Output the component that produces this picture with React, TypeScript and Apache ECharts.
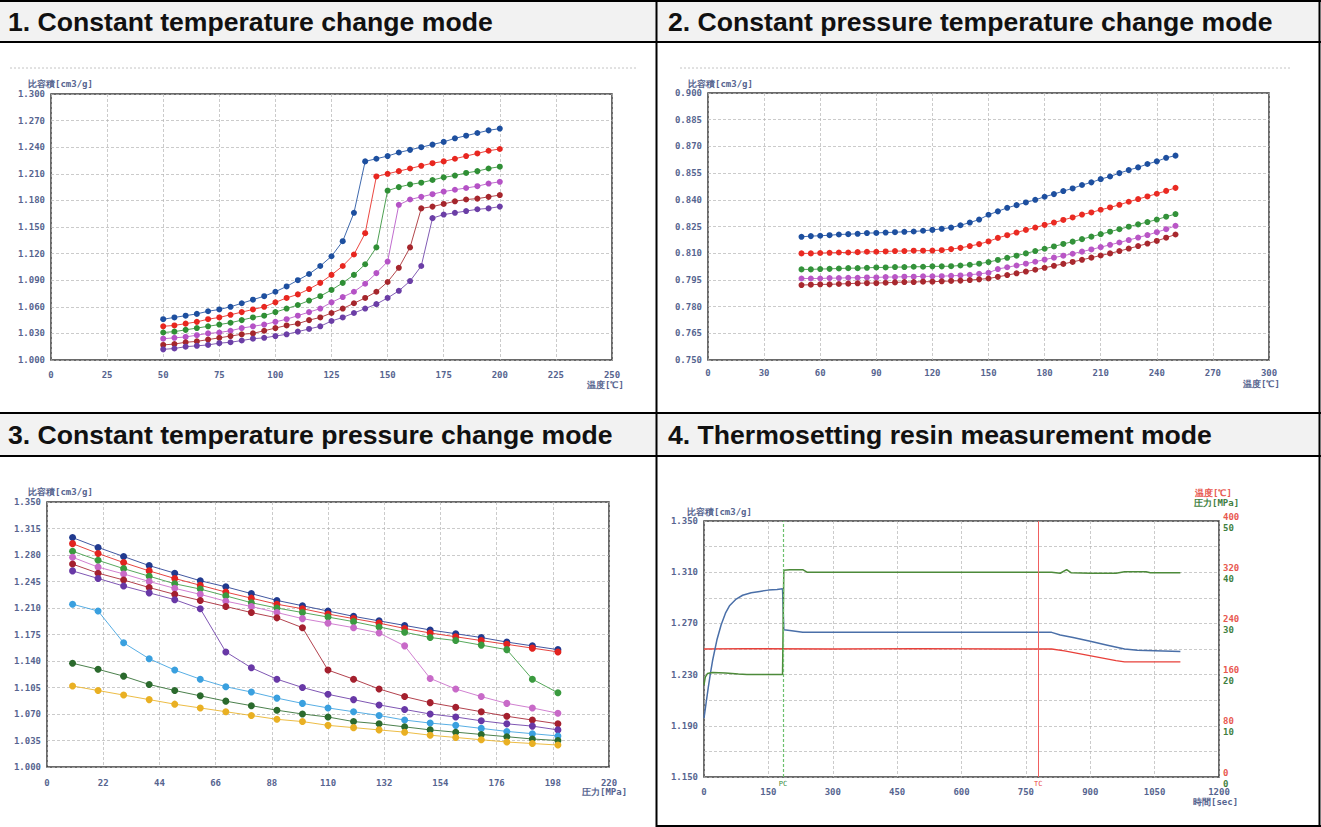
import React, { useEffect, useRef } from 'react';
import * as echarts from 'echarts';

// ---------- Table headers ----------
const headers = [
  '1. Constant temperature change mode',
  '2. Constant pressure temperature change mode',
  '3. Constant temperature pressure change mode',
  '4. Thermosetting resin measurement mode',
];

// ---------- Chart 1: constant temperature change (x: 温度 ℃) ----------
const c1Temp = [50, 55, 60, 65, 70, 75, 80, 85, 90, 95, 100, 105, 110, 115, 120, 125, 130, 135, 140, 145, 150, 155, 160, 165, 170, 175, 180, 185, 190, 195, 200];
const c1Blue = [1.046, 1.048, 1.050, 1.052, 1.055, 1.057, 1.060, 1.064, 1.068, 1.072, 1.077, 1.083, 1.090, 1.097, 1.106, 1.117, 1.134, 1.166, 1.224, 1.227, 1.230, 1.234, 1.237, 1.240, 1.243, 1.246, 1.250, 1.253, 1.256, 1.259, 1.261];
const c1Red = [1.038, 1.039, 1.041, 1.043, 1.046, 1.048, 1.051, 1.054, 1.057, 1.060, 1.065, 1.070, 1.074, 1.080, 1.087, 1.096, 1.106, 1.119, 1.143, 1.207, 1.210, 1.213, 1.216, 1.219, 1.222, 1.224, 1.227, 1.230, 1.233, 1.236, 1.238];
const c1Green = [1.031, 1.032, 1.034, 1.036, 1.038, 1.040, 1.042, 1.045, 1.048, 1.050, 1.054, 1.058, 1.062, 1.067, 1.072, 1.079, 1.087, 1.096, 1.108, 1.127, 1.191, 1.195, 1.198, 1.200, 1.203, 1.206, 1.208, 1.211, 1.213, 1.216, 1.218];
const c1Magenta = [1.024, 1.025, 1.026, 1.028, 1.030, 1.031, 1.033, 1.036, 1.038, 1.040, 1.043, 1.046, 1.050, 1.054, 1.058, 1.065, 1.071, 1.077, 1.086, 1.098, 1.111, 1.175, 1.181, 1.184, 1.187, 1.190, 1.192, 1.194, 1.196, 1.199, 1.201];
const c1DarkRed = [1.017, 1.018, 1.020, 1.021, 1.023, 1.025, 1.027, 1.029, 1.030, 1.033, 1.036, 1.039, 1.041, 1.045, 1.048, 1.053, 1.058, 1.064, 1.070, 1.077, 1.088, 1.104, 1.127, 1.171, 1.173, 1.176, 1.179, 1.181, 1.182, 1.184, 1.186];
const c1Purple = [1.012, 1.013, 1.015, 1.016, 1.017, 1.019, 1.020, 1.022, 1.024, 1.025, 1.027, 1.029, 1.032, 1.035, 1.038, 1.044, 1.048, 1.053, 1.058, 1.063, 1.070, 1.078, 1.089, 1.106, 1.160, 1.164, 1.166, 1.168, 1.170, 1.171, 1.173];

// ---------- Chart 2: constant pressure temperature change ----------
const c2Temp = [50, 55, 60, 65, 70, 75, 80, 85, 90, 95, 100, 105, 110, 115, 120, 125, 130, 135, 140, 145, 150, 155, 160, 165, 170, 175, 180, 185, 190, 195, 200, 205, 210, 215, 220, 225, 230, 235, 240, 245, 250];
const c2Blue = [0.8192, 0.8196, 0.8198, 0.8201, 0.8205, 0.8207, 0.8209, 0.8213, 0.8214, 0.8216, 0.8218, 0.8220, 0.8222, 0.8226, 0.8231, 0.8237, 0.8244, 0.8257, 0.8272, 0.8289, 0.8316, 0.8335, 0.8355, 0.8370, 0.8385, 0.8400, 0.8417, 0.8432, 0.8449, 0.8464, 0.8483, 0.8498, 0.8516, 0.8531, 0.8550, 0.8567, 0.8582, 0.8601, 0.8616, 0.8636, 0.8648];
const c2Red = [0.8099, 0.8099, 0.8101, 0.8102, 0.8104, 0.8104, 0.8106, 0.8108, 0.8108, 0.8110, 0.8112, 0.8112, 0.8114, 0.8114, 0.8115, 0.8117, 0.8123, 0.8130, 0.8140, 0.8151, 0.8166, 0.8186, 0.8201, 0.8216, 0.8231, 0.8244, 0.8259, 0.8272, 0.8287, 0.8301, 0.8317, 0.8329, 0.8344, 0.8357, 0.8372, 0.8389, 0.8404, 0.8419, 0.8434, 0.8450, 0.8467];
const c2Green = [0.8009, 0.8009, 0.8011, 0.8012, 0.8014, 0.8016, 0.8016, 0.8018, 0.8020, 0.8020, 0.8022, 0.8022, 0.8024, 0.8024, 0.8026, 0.8026, 0.8027, 0.8031, 0.8035, 0.8041, 0.8050, 0.8062, 0.8074, 0.8086, 0.8099, 0.8112, 0.8125, 0.8138, 0.8152, 0.8165, 0.8179, 0.8193, 0.8207, 0.8221, 0.8235, 0.8249, 0.8262, 0.8275, 0.8289, 0.8305, 0.8320];
const c2Magenta = [0.7958, 0.7958, 0.7958, 0.7960, 0.7960, 0.7962, 0.7962, 0.7964, 0.7964, 0.7966, 0.7966, 0.7968, 0.7968, 0.7970, 0.7970, 0.7971, 0.7973, 0.7975, 0.7979, 0.7984, 0.7990, 0.8011, 0.8021, 0.8031, 0.8041, 0.8052, 0.8064, 0.8075, 0.8086, 0.8097, 0.8109, 0.8121, 0.8134, 0.8147, 0.8160, 0.8174, 0.8188, 0.8202, 0.8218, 0.8235, 0.8254];
const c2DarkRed = [0.7921, 0.7923, 0.7925, 0.7925, 0.7927, 0.7929, 0.7931, 0.7932, 0.7932, 0.7934, 0.7936, 0.7938, 0.7938, 0.7940, 0.7940, 0.7942, 0.7944, 0.7946, 0.7949, 0.7953, 0.7958, 0.7967, 0.7977, 0.7987, 0.7997, 0.8007, 0.8018, 0.8029, 0.8040, 0.8051, 0.8063, 0.8075, 0.8087, 0.8099, 0.8112, 0.8126, 0.8140, 0.8154, 0.8169, 0.8187, 0.8205];

// ---------- Chart 3: constant temperature pressure change (x: 圧力 MPa) ----------
const c3Pressure = [10, 20, 30, 40, 50, 60, 70, 80, 90, 100, 110, 120, 130, 140, 150, 160, 170, 180, 190, 200];
const c3Navy = [1.303, 1.290, 1.278, 1.266, 1.256, 1.246, 1.238, 1.229, 1.220, 1.213, 1.206, 1.199, 1.193, 1.187, 1.181, 1.176, 1.171, 1.165, 1.160, 1.155];
const c3Red = [1.295, 1.282, 1.270, 1.259, 1.249, 1.240, 1.231, 1.223, 1.215, 1.209, 1.202, 1.196, 1.190, 1.183, 1.177, 1.172, 1.167, 1.162, 1.157, 1.152];
const c3Green = [1.285, 1.273, 1.262, 1.252, 1.242, 1.235, 1.226, 1.217, 1.210, 1.204, 1.198, 1.192, 1.185, 1.178, 1.171, 1.167, 1.161, 1.155, 1.116, 1.098];
const c3Pink = [1.277, 1.264, 1.255, 1.245, 1.236, 1.228, 1.219, 1.212, 1.204, 1.196, 1.190, 1.184, 1.177, 1.160, 1.117, 1.103, 1.093, 1.084, 1.078, 1.071];
const c3DarkRed = [1.268, 1.256, 1.247, 1.237, 1.228, 1.220, 1.212, 1.204, 1.197, 1.184, 1.128, 1.116, 1.103, 1.093, 1.085, 1.079, 1.073, 1.067, 1.062, 1.057];
const c3Purple = [1.259, 1.249, 1.239, 1.230, 1.221, 1.209, 1.152, 1.131, 1.116, 1.105, 1.096, 1.089, 1.082, 1.076, 1.070, 1.066, 1.061, 1.057, 1.054, 1.049];
const c3LightBlue = [1.215, 1.206, 1.164, 1.143, 1.128, 1.116, 1.106, 1.099, 1.091, 1.084, 1.078, 1.073, 1.068, 1.062, 1.058, 1.055, 1.051, 1.047, 1.044, 1.041];
const c3DarkGreen = [1.137, 1.129, 1.120, 1.109, 1.101, 1.094, 1.087, 1.081, 1.075, 1.070, 1.066, 1.060, 1.057, 1.053, 1.049, 1.046, 1.043, 1.040, 1.037, 1.035];
const c3Yellow = [1.107, 1.101, 1.095, 1.089, 1.083, 1.078, 1.073, 1.068, 1.063, 1.060, 1.055, 1.052, 1.049, 1.046, 1.042, 1.039, 1.036, 1.033, 1.031, 1.029];

// ---------- Chart 4: thermosetting resin (x: 時間 sec) ----------
const c4VolTime = [0, 5, 10, 15, 20, 30, 40, 50, 60, 75, 90, 110, 130, 150, 170, 183, 186, 200, 230, 400, 600, 810, 830, 860, 900, 940, 980, 1010, 1110];
const c4Volume = [1.196, 1.208, 1.220, 1.231, 1.241, 1.257, 1.269, 1.278, 1.284, 1.289, 1.292, 1.294, 1.295, 1.296, 1.2965, 1.297, 1.265, 1.2645, 1.263, 1.263, 1.263, 1.263, 1.261, 1.259, 1.256, 1.253, 1.250, 1.249, 1.248];
const c4TempTime = [0, 100, 300, 500, 700, 810, 840, 880, 920, 960, 980, 1110];
const c4TempVal = [200, 200.5, 200, 200.5, 200, 200, 197, 192, 187, 182, 180, 180];
const c4PresTime = [0, 3, 8, 20, 50, 80, 100, 183, 186, 200, 230, 240, 500, 810, 830, 845, 855, 900, 960, 980, 1030, 1040, 1110];
const c4PresVal = [18, 19.5, 20.2, 20.4, 20.3, 20.1, 20.0, 20.0, 40.4, 40.5, 40.5, 40.0, 40.0, 40.0, 39.8, 40.5, 39.9, 39.8, 39.8, 40.1, 40.1, 39.9, 39.9];
const c4PcTime = 184;
const c4TcTime = 779;

const LABEL = { fontFamily: 'DejaVu Sans Mono', fontSize: 9, fontWeight: 'bold', color: '#56648f' };
const SPLIT = { show: true, lineStyle: { color: '#b4b4b4', width: 0.7, type: [3, 2] } };

function xAxisDef(gridIndex: number, max: number, interval: number, margin: number) {
  return {
    type: 'value', gridIndex, min: 0, max, interval,
    axisLine: { show: false }, axisTick: { show: false },
    splitLine: SPLIT,
    axisLabel: { ...LABEL, margin, formatter: (v: number) => String(v) },
  };
}

function yAxisDef(gridIndex: number, min: number, max: number, interval: number, formatter?: any) {
  return {
    type: 'value', gridIndex, min, max, interval,
    axisLine: { show: false }, axisTick: { show: false },
    splitLine: SPLIT,
    axisLabel: { ...LABEL, margin: 6, formatter: formatter || ((v: number) => v.toFixed(3)) },
  };
}

function dots(xs: number[], ys: number[], color: string, xi: number, yi: number, size: number) {
  return {
    type: 'line', xAxisIndex: xi, yAxisIndex: yi,
    data: xs.map((x, i) => [x, ys[i]]),
    symbol: 'circle', symbolSize: size, showSymbol: true,
    itemStyle: { color },
    lineStyle: { color, width: 1, opacity: 0.85 },
    emphasis: { disabled: true },
    z: 3,
  };
}

function txt(x: number, y: number, text: string, fill: string, extra: any = {}) {
  return {
    type: 'text', x, y, silent: true,
    style: { text, fill, fontFamily: 'DejaVu Sans Mono', fontSize: 9, fontWeight: 'bold', align: 'left', verticalAlign: 'middle', ...extra },
  };
}

function hline(x1: number, x2: number, y: number, w: number, stroke = '#000', dash?: number[]) {
  return { type: 'line', silent: true, shape: { x1, y1: y, x2, y2: y }, style: { stroke, lineWidth: w, lineDash: dash } };
}
function vline(x: number, y1: number, y2: number, w: number, stroke = '#000') {
  return { type: 'line', silent: true, shape: { x1: x, y1, x2: x, y2 }, style: { stroke, lineWidth: w } };
}

export default function App() {
  const ref = useRef<HTMLDivElement>(null);
  useEffect(() => {
    document.body.style.margin = '0';
    const chart = echarts.init(ref.current!, null, { renderer: 'svg' });
    const c1Colors = ['#1d4f9f', '#e8261f', '#2f8f35', '#b552c6', '#a5262c', '#6b3ea6'];
    const c2Colors = ['#1d4f9f', '#ea2a22', '#33923a', '#b956c6', '#a8282e'];
    const c3Colors = ['#213a8f', '#e2231f', '#3a9a3f', '#c86ac8', '#a4202e', '#6838a6', '#3aa0df', '#2b6a2d', '#e9b023'];
    const c1Sets = [c1Blue, c1Red, c1Green, c1Magenta, c1DarkRed, c1Purple];
    const c2Sets = [c2Blue, c2Red, c2Green, c2Magenta, c2DarkRed];
    const c3Sets = [c3Navy, c3Red, c3Green, c3Pink, c3DarkRed, c3Purple, c3LightBlue, c3DarkGreen, c3Yellow];

    const headerFont = { fontFamily: 'Liberation Sans, Arial, sans-serif', fontSize: 26.6, fontWeight: 'bold', verticalAlign: 'middle', align: 'left' };

    const option: any = {
      animation: false,
      backgroundColor: '#ffffff',
      grid: [
        { left: 51, top: 94, width: 561, height: 266, show: true, borderColor: '#3a3a3a', borderWidth: 1.5 },
        { left: 708, top: 93, width: 561, height: 267, show: true, borderColor: '#3a3a3a', borderWidth: 1.5 },
        { left: 47, top: 502, width: 562, height: 265, show: true, borderColor: '#3a3a3a', borderWidth: 1.5 },
        { left: 704, top: 521, width: 515, height: 256, show: true, borderColor: '#3a3a3a', borderWidth: 1.5 },
      ],
      xAxis: [
        xAxisDef(0, 250, 25, 10),
        xAxisDef(1, 300, 30, 8),
        xAxisDef(2, 220, 22, 11),
        xAxisDef(3, 1200, 150, 10),
      ],
      yAxis: [
        yAxisDef(0, 1.0, 1.3, 0.03),
        yAxisDef(1, 0.75, 0.9, 0.015),
        yAxisDef(2, 1.0, 1.35, 0.035),
        yAxisDef(3, 1.15, 1.35, 0.02, (v: number) => (Math.round((v - 1.15) / 0.02) % 2 === 0 ? v.toFixed(3) : '')),
        {
          type: 'value', gridIndex: 3, position: 'right', min: 0, max: 400, interval: 80,
          axisLine: { show: false }, axisTick: { show: false }, splitLine: { show: false },
          axisLabel: { ...LABEL, color: '#e8584f', margin: 4, verticalAlign: 'bottom' },
        },
        {
          type: 'value', gridIndex: 3, position: 'right', min: 0, max: 50, interval: 10,
          axisLine: { show: false }, axisTick: { show: false }, splitLine: { show: false },
          axisLabel: { ...LABEL, color: '#3f7f3f', margin: 4, verticalAlign: 'top', padding: [2, 0, 0, 0] },
        },
      ],
      series: [
        ...c1Sets.map((s, i) => dots(c1Temp, s, c1Colors[i], 0, 0, 6)),
        ...c2Sets.map((s, i) => dots(c2Temp, s, c2Colors[i], 1, 1, 6)),
        ...c3Sets.map((s, i) => dots(c3Pressure, s, c3Colors[i], 2, 2, 7)),
        {
          type: 'line', xAxisIndex: 3, yAxisIndex: 3, showSymbol: false, symbol: 'none',
          data: c4VolTime.map((t, i) => [t, c4Volume[i]]),
          lineStyle: { color: '#4a6fa8', width: 1.5 }, emphasis: { disabled: true }, z: 4,
        },
        {
          type: 'line', xAxisIndex: 3, yAxisIndex: 4, showSymbol: false, symbol: 'none',
          data: c4TempTime.map((t, i) => [t, c4TempVal[i]]),
          lineStyle: { color: '#e8403a', width: 1.3 }, emphasis: { disabled: true }, z: 3,
          markLine: {
            silent: true, symbol: ['none', 'none'], animation: false,
            lineStyle: { color: '#f06060', width: 1, type: 'solid' },
            label: { show: true, position: 'start', formatter: 'TC', color: '#e84040', fontSize: 7, fontFamily: 'DejaVu Sans Mono', distance: 3 },
            data: [{ xAxis: c4TcTime }],
          },
        },
        {
          type: 'line', xAxisIndex: 3, yAxisIndex: 5, showSymbol: false, symbol: 'none',
          data: c4PresTime.map((t, i) => [t, c4PresVal[i]]),
          lineStyle: { color: '#4d8a3a', width: 1.5 }, emphasis: { disabled: true }, z: 4,
          markLine: {
            silent: true, symbol: ['none', 'none'], animation: false,
            data: [{
              xAxis: c4PcTime,
              lineStyle: { color: '#6cc06c', width: 1.2, type: [3, 2] },
              label: { show: true, position: 'start', formatter: 'PC', color: '#3a8a3a', fontSize: 7, fontFamily: 'DejaVu Sans Mono', distance: 3 },
            }],
          },
        },
      ],
      graphic: [
        // header backgrounds
        { type: 'rect', silent: true, shape: { x: 0, y: 0, width: 1321, height: 42 }, style: { fill: '#f2f2f2' } },
        { type: 'rect', silent: true, shape: { x: 0, y: 413, width: 1321, height: 43 }, style: { fill: '#f2f2f2' } },
        // table lines
        hline(0, 1321, 1, 2),
        hline(0, 1321, 42, 2),
        hline(0, 1321, 413, 2),
        hline(0, 1321, 456, 2),
        hline(656, 1321, 826, 2),
        vline(656.5, 0, 827, 2),
        vline(1319.5, 0, 827, 2),
        // header texts
        { type: 'text', x: 8, y: 22, silent: true, style: { text: headers[0], fill: '#111', ...headerFont } },
        { type: 'text', x: 668, y: 22, silent: true, style: { text: headers[1], fill: '#111', ...headerFont } },
        { type: 'text', x: 8, y: 435, silent: true, style: { text: headers[2], fill: '#111', ...headerFont } },
        { type: 'text', x: 668, y: 435, silent: true, style: { text: headers[3], fill: '#111', ...headerFont } },
        // scan top lines
        hline(10, 636, 68, 1, '#c4c4c4', [2, 2]),
        hline(680, 1290, 68, 1, '#c4c4c4', [2, 2]),
        // axis titles
        txt(28, 84, '比容積[cm3/g]', '#56648f'),
        txt(587, 385, '温度[℃]', '#56648f'),
        txt(688, 84, '比容積[cm3/g]', '#56648f'),
        txt(1243, 384, '温度[℃]', '#56648f'),
        txt(28, 492, '比容積[cm3/g]', '#56648f'),
        txt(582, 792, '圧力[MPa]', '#56648f'),
        txt(687, 512, '比容積[cm3/g]', '#56648f'),
        txt(1195, 493, '温度[℃]', '#e8584f'),
        txt(1194, 503, '圧力[MPa]', '#3f7f3f'),
        txt(1193, 802, '時間[sec]', '#56648f'),
      ],
    };
    chart.setOption(option);
    return () => chart.dispose();
  }, []);
  return <div ref={ref} style={{ width: 1321, height: 827 }} />;
}
